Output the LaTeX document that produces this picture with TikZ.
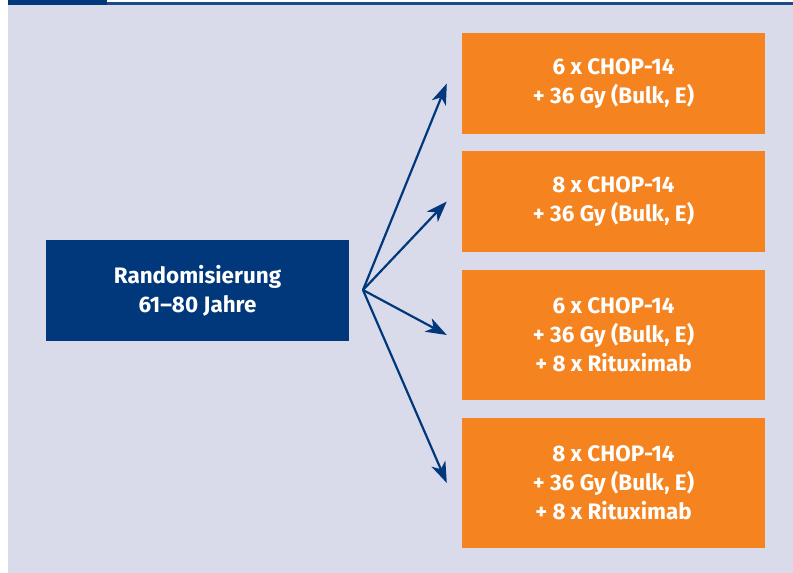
\documentclass[tikz,border=0pt]{standalone}
\usepackage{fontspec}
\setmainfont{Fira Sans}
\usetikzlibrary{arrows.meta,positioning}
\definecolor{bgblue}{HTML}{D9DBEA}
\definecolor{darkblue}{HTML}{00387B}
\definecolor{therapyorange}{HTML}{F58420}

\begin{document}
\begin{tikzpicture}[x=1bp, y=-1bp,
        box/.style={minimum width=303bp, inner sep=0pt, text=white, align=center,
                font=\bfseries\fontsize{22.5}{29}\selectfont},
        arm/.style={darkblue, line width=2.2bp,
                -{Stealth[length=21bp, width=15bp, inset=6bp]}}]
        \useasboundingbox (0, 0) rectangle (793, 573);
        \fill[bgblue] (8, 5) rectangle (793, 573);
        \fill[darkblue] (8, 0) rectangle (107, 5);
        \fill[darkblue!90!white] (107, 2.5) rectangle (793, 5);

        \node[box, fill=darkblue, minimum height=101bp] (rand) at (197.5, 290.5)
                {Randomisierung\\61--80 Jahre};
        \node[box, fill=therapyorange, minimum height=101bp] (arm1) at (613.5, 83.5)
                {6 x CHOP-14\\+ 36 Gy (Bulk, E)};
        \node[box, fill=therapyorange, minimum height=101bp] (arm2) at (613.5, 201.5)
                {8 x CHOP-14\\+ 36 Gy (Bulk, E)};
        \node[box, fill=therapyorange, minimum height=130bp] (arm3) at (613.5, 335)
                {6 x CHOP-14\\+ 36 Gy (Bulk, E)\\+ 8 x Rituximab};
        \node[box, fill=therapyorange, minimum height=130bp] (arm4) at (613.5, 483)
                {8 x CHOP-14\\+ 36 Gy (Bulk, E)\\+ 8 x Rituximab};

        \coordinate (hub) at (363, 290);
        \foreach \n in {1, 2, 3, 4} {
                \coordinate (tip\n) at ([xshift=-15bp]arm\n.west);
                \draw[arm] (hub) -- (tip\n);
        }
\end{tikzpicture}
\end{document}
